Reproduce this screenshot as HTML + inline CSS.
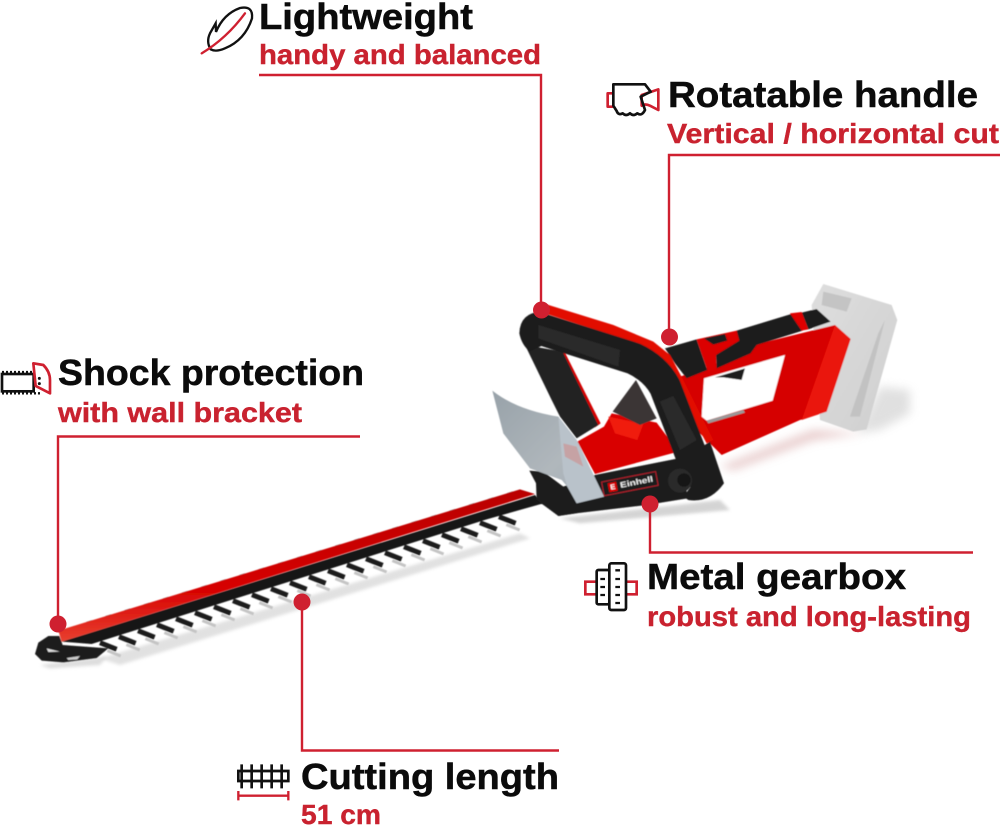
<!DOCTYPE html>
<html lang="en"><head><meta charset="utf-8"><title>Hedge trimmer features</title>
<style>
html,body{margin:0;padding:0;background:#fff}
svg{display:block}
.h{font:bold 36px "Liberation Sans",sans-serif;fill:#0b0b0b;stroke:#0b0b0b;stroke-width:.5}
.s{font:bold 28px "Liberation Sans",sans-serif;fill:#c9222f;stroke:#c9222f;stroke-width:.4}
</style></head><body>
<svg xmlns="http://www.w3.org/2000/svg" width="1000" height="826" viewBox="0 0 1000 826">
<defs>
<filter id="s" x="-5%" y="-5%" width="110%" height="110%"><feGaussianBlur stdDeviation="1.6"/></filter>
<filter id="b2" x="-30%" y="-50%" width="160%" height="200%"><feGaussianBlur stdDeviation="14"/></filter>
<filter id="b3" x="-10%" y="-50%" width="120%" height="200%"><feGaussianBlur stdDeviation="5"/></filter>
<linearGradient id="bar" x1="0" y1="0" x2="0.02" y2="1"><stop offset="0" stop-color="#b80000"/><stop offset=".65" stop-color="#d60000"/><stop offset="1" stop-color="#e84030"/></linearGradient>
<linearGradient id="bat" x1="0" y1="0" x2="1" y2="1"><stop offset="0" stop-color="#dedede"/><stop offset="1" stop-color="#cfcfcf"/></linearGradient>
<linearGradient id="guard" x1="0" y1="0" x2="1" y2="1"><stop offset="0" stop-color="#98a2a9"/><stop offset=".6" stop-color="#b0b7bc"/><stop offset="1" stop-color="#a3aeb8"/></linearGradient>
</defs>

<!-- BLADE -->
<g transform="translate(20,480) scale(.3333)">
  <path d="M240 535 L1500 160 L1530 175 L300 555Z" fill="#aaa" opacity=".35" filter="url(#b3)"/>
  <path d="M60 555 L260 530 L240 555 L90 565Z" fill="#bbb" opacity=".5" filter="url(#b3)"/>
  <g filter="url(#s)">
  <path d="M262 512 l40 16 m17 -34 l40 16 m17 -34 l40 16 m17 -34 l40 16 m17 -34 l40 16 m17 -34 l40 16 m17 -34 l40 16 m17 -34 l40 16 m17 -34 l40 16 m17 -34 l40 16 m17 -34 l40 16 m17 -34 l40 16 m17 -34 l40 16 m17 -34 l40 16 m17 -34 l40 16 m17 -34 l40 16 m17 -34 l40 16 m17 -34 l40 16 m17 -34 l40 16 m17 -34 l40 16 m17 -34 l40 16 m17 -34 l40 16" stroke="#c4c4c4" stroke-width="9" fill="none"/>
  <path d="M240 488 l50 20 m7 -38 l50 20 m7 -38 l50 20 m7 -38 l50 20 m7 -38 l50 20 m7 -38 l50 20 m7 -38 l50 20 m7 -38 l50 20 m7 -38 l50 20 m7 -38 l50 20 m7 -38 l50 20 m7 -38 l50 20 m7 -38 l50 20 m7 -38 l50 20 m7 -38 l50 20 m7 -38 l50 20 m7 -38 l50 20 m7 -38 l50 20 m7 -38 l50 20 m7 -38 l50 20 m7 -38 l50 20 m7 -38 l50 20" stroke="#1d1d1d" stroke-width="15" fill="none"/>
  <path d="M200 430 L1500 32" stroke="#666" stroke-width="9" stroke-dasharray="18 42" fill="none"/>
  <path d="M125 485 L1545 45 L1570 70 L1400 118 L215 492Z" fill="#161616"/>
  <path d="M115 452 L1500 28 L1545 42 L125 485Z" fill="url(#bar)"/>
  <path d="M45 522 L55 488 L85 468 L118 468 L128 495 L265 505 L230 534 L130 547 L65 542Z" fill="#1c1c1c"/>
  <path d="M80 505 L120 515 L85 516Z" fill="#ddd"/>
  <path d="M140 534 L180 528 L172 538 L145 540Z" fill="#ccc"/>
  </g>
</g>

<!-- BODY -->
<g transform="translate(480,270) scale(.3333)">
  <path d="M720 590 L1000 480 L1150 490 L1000 510 L760 600Z" fill="#d8a8a8" opacity=".6" filter="url(#b2)"/>
  <path d="M1130 490 L1200 350 L1290 360 L1290 430 L1200 480Z" fill="#bbb" opacity=".45" filter="url(#b2)"/>
  <path d="M240 745 L720 690 L750 720 L300 760Z" fill="#aaa" opacity=".5" filter="url(#b3)"/>
  <g filter="url(#s)">
  <!-- battery -->
  <path d="M995 105 L1030 42 L1235 105 L1252 150 L1160 478 L1120 485 L1020 450Z" fill="url(#bat)"/>
  <path d="M1030 65 L1115 85 L1100 125 L1025 105Z" fill="#c4c4c4"/>
  <path d="M1195 190 L1215 150 L1140 440 L1110 440Z" fill="#c2c2c2"/>
  <!-- rear frame red -->
  <path d="M600 320 L690 290 L820 225 L1065 165 L1112 207 L1040 425 L960 450 L725 555 L650 480Z" fill="#d60000"/>
  <path d="M1065 165 L1112 207 L1040 425 L965 450Z" fill="#ea1208"/>
  <path d="M672 325 L915 255 L878 392 L680 452 L665 440Z" fill="#fff"/>
  <path d="M680 452 L790 420 L795 428 L685 460Z" fill="#999"/>
  <path d="M705 322 L795 295 L785 330 L730 322Z" fill="#1c1c1c"/>
  <!-- rear grip -->
  <path d="M555 235 L650 208 L682 300 L620 325 L585 280Z" fill="#1e1e1e"/>
  <path d="M708 255 L770 182 L940 130 L968 182 L830 225 L812 250 L710 295Z" fill="#1e1e1e"/>
  <path d="M965 128 L1010 117 L1052 155 L985 178Z" fill="#1e1e1e"/>
  <path d="M930 130 L965 126 L985 178 L965 182Z" fill="#e00000"/>
  <path d="M650 208 L770 182 L778 212 L708 255 L710 298 L684 305Z" fill="#dc0000"/>
  <path d="M672 205 L735 192 L742 212 L700 224Z" fill="#1a1a1a"/>
  <!-- gearbox -->
  <path d="M372 470 L395 430 L530 458 L595 545 L345 612 L292 515Z" fill="#d90000"/>
  <path d="M385 440 L490 462 L472 510 L405 490Z" fill="#f01a10"/>
  <path d="M398 425 L468 330 L530 445 L480 465Z" fill="#3a3636"/>
  <path d="M345 615 L595 565 L625 685 L500 705 L290 730 L235 738 L170 610 L250 650Z" fill="#1c1c1c"/>
  <!-- left leg -->
  <path d="M250 238 L362 460 L345 472 L235 245Z" fill="#d60000"/>
  <path d="M135 225 L248 245 L355 465 L290 505 L240 440 L215 390Z" fill="#232323"/>
  <!-- red top strip -->
  <path d="M190 100 L400 165 L520 215 L570 255 L610 330 L700 510 L680 520 L540 260 L440 210 L180 125Z" fill="#e20a00"/>
  <!-- D handle -->
  <path d="M185 178 L460 265 Q525 295 555 350 L655 610" stroke="#1f1f1f" stroke-width="96" fill="none" stroke-linecap="round" stroke-linejoin="round"/>
  <path d="M118 190 Q120 128 185 125 L200 220 L150 245 Q125 225 118 190Z" fill="#1f1f1f"/>
  <path d="M175 165 L420 240 L415 290 L175 205Z" fill="#2a2a2a"/>
  <path d="M540 395 L580 378 L650 510 L600 540Z" fill="#2b2b2b"/>
  <!-- knob -->
  <circle cx="600" cy="632" r="36" fill="#2a2a2a"/>
  <circle cx="612" cy="630" r="20" fill="#151515"/>
  <path d="M625 690 Q690 700 732 640 L690 515 L620 560 L640 640 L610 680Z" fill="#1f1f1f"/>
  <!-- base below guard -->
  <path d="M148 602 L190 605 L250 650 L295 700 L365 690 L290 730 L235 738 L170 690 L168 640Z" fill="#1c1c1c"/>
  <!-- guard -->
  <path d="M37 362 Q110 420 235 440 L290 510 L372 680 L290 700 L262 650 L245 630 L150 595 L70 490Z" fill="url(#guard)"/>
  <path d="M235 440 L290 510 L372 680 L290 700 L262 650 L250 610Z" fill="#b9c2ca"/>
  <path d="M250 520 L290 530 L310 590 L255 560Z" fill="#c99a9a" opacity=".8"/>
  <!-- label -->
  <g transform="rotate(-11 450 640)">
    <rect x="367" y="620" width="165" height="42" fill="#1a1a1a" stroke="#c9222f" stroke-width="2.5"/>
    <rect x="384" y="627" width="26" height="28" fill="#d90000"/>
    <text x="390" y="648" font-family="Liberation Sans" font-weight="bold" font-size="22" fill="#fff">E</text>
    <text x="420" y="648" font-family="Liberation Sans" font-weight="bold" font-size="24" fill="#eee" textLength="100" lengthAdjust="spacingAndGlyphs">Einhell</text>
  </g>
  </g>
</g>

<!-- CONNECTORS -->
<g fill="none" stroke="#cf2030" stroke-width="2.4">
  <path d="M259 75 H541 V310"/>
  <path d="M1000 155 H669 V337"/>
  <path d="M360 436.500 H58 V624"/>
  <path d="M973 552.500 H650 V504"/>
  <path d="M559 750.500 H302 V602"/>
</g>
<g fill="#cf2030">
  <circle cx="541.500" cy="310" r="8.500"/>
  <circle cx="669.500" cy="337" r="8.500"/>
  <circle cx="58" cy="624" r="8.500"/>
  <circle cx="650" cy="504" r="8.500"/>
  <circle cx="302" cy="602" r="8.500"/>
</g>

<!-- TEXT -->
<text class="h" x="259" y="29" textLength="214" lengthAdjust="spacingAndGlyphs">Lightweight</text>
<text class="s" x="259" y="64" textLength="282" lengthAdjust="spacingAndGlyphs">handy and balanced</text>
<text class="h" x="668" y="107" textLength="310" lengthAdjust="spacingAndGlyphs">Rotatable handle</text>
<text class="s" x="667" y="143" textLength="332" lengthAdjust="spacingAndGlyphs">Vertical / horizontal cut</text>
<text class="h" x="58" y="385" textLength="306" lengthAdjust="spacingAndGlyphs">Shock protection</text>
<text class="s" x="58" y="422" textLength="244" lengthAdjust="spacingAndGlyphs">with wall bracket</text>
<text class="h" x="647" y="589" textLength="259" lengthAdjust="spacingAndGlyphs">Metal gearbox</text>
<text class="s" x="647" y="626" textLength="324" lengthAdjust="spacingAndGlyphs">robust and long-lasting</text>
<text class="h" x="301" y="789" textLength="258" lengthAdjust="spacingAndGlyphs">Cutting length</text>
<text class="s" x="301" y="824" textLength="80" lengthAdjust="spacingAndGlyphs">51 cm</text>

<!-- ICON feather -->
<g transform="translate(190,0) scale(.3333)" fill="none" stroke-linecap="round">
  <path d="M62 148 Q48 125 60 100 L77 70 L78 96 Q100 42 150 24 Q190 16 186 55 Q165 120 105 145 Q78 157 62 148Z" stroke="#111" stroke-width="7"/>
  <path d="M35 160 Q110 115 165 40" stroke="#cf2030" stroke-width="7"/>
</g>
<!-- ICON hand -->
<g transform="translate(600,75) scale(.3333)" fill="none" stroke-width="8" stroke-linejoin="round">
  <path d="M40 55 H23 V95 H40" stroke="#cf2030"/>
  <path d="M125 60 L175 43 V105 L150 92 Q135 85 125 92 Z" stroke="#cf2030"/>
  <path d="M40 28 H135 L152 50 L122 65 L135 105 Q125 125 112 115 Q100 125 90 115 Q78 125 68 115 Q55 122 50 108 L40 92Z" stroke="#111"/>
</g>
<!-- ICON saw -->
<g transform="translate(0,350) scale(.3333)">
  <rect x="6" y="72" width="95" height="52" fill="#fff" stroke="#111" stroke-width="8"/>
  <path d="M6 66 H100 M6 130 H125" stroke="#111" stroke-width="7" stroke-dasharray="6 6"/>
  <path d="M100 40 L130 45 Q150 65 150 90 V130 L107 108Z" fill="#fff" stroke="#cf2030" stroke-width="8" stroke-linejoin="round"/>
  <circle cx="118" cy="85" r="4.500" fill="#111"/><circle cx="118" cy="101" r="4.500" fill="#111"/>
</g>
<!-- ICON gearbox -->
<g transform="translate(580,555) scale(.3333)">
  <path d="M48 80 H16 V118 H48 M138 80 H170 V118 H138" fill="none" stroke="#cf2030" stroke-width="8"/>
  <rect x="50" y="45" width="38" height="103" rx="5" fill="#fff" stroke="#111" stroke-width="8"/>
  <rect x="88" y="25" width="50" height="140" rx="6" fill="#fff" stroke="#111" stroke-width="8"/>
  <path d="M61 72 h14 M61 96 h14 M61 120 h14 M106 46 h14 M106 72 h14 M106 96 h14 M106 120 h14 M106 144 h14" stroke="#111" stroke-width="7"/>
</g>
<!-- ICON length -->
<g transform="translate(230,755) scale(.3333)" fill="none">
  <path d="M35 48 H175 V78 H25 V48 H35" stroke="#111" stroke-width="8"/>
  <path d="M35 28 V100 M65 28 V100 M95 28 V100 M125 28 V100 M155 28 V100" stroke="#111" stroke-width="8"/>
  <path d="M25 122 H175 M25 108 V136 M175 108 V136" stroke="#cf2030" stroke-width="7"/>
</g>
</svg>
</body></html>
